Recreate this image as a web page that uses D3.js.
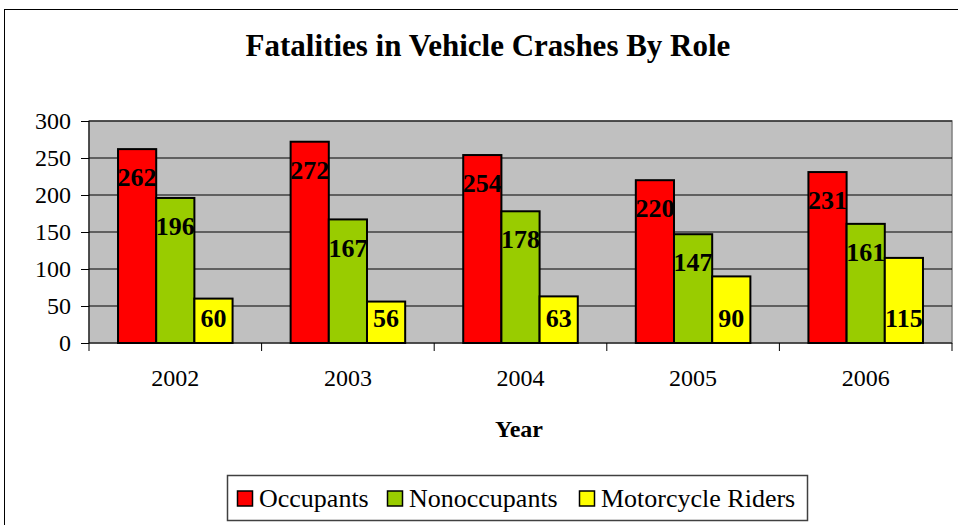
<!DOCTYPE html>
<html lang="en">
<head>
    <meta charset="utf-8">
    <title>Fatalities in Vehicle Crashes By Role</title>
    <script type="text/javascript" src="https://cdn.jsdelivr.net/npm/d3@7"></script>
    <style type="text/css">
        body { margin: 0; background: white; }
    </style>
</head>
<body>
    <script type="text/javascript">

    var w = 958
    var h = 525
    var serif = "'Liberation Serif', 'Times New Roman', serif"

    var years = ["2002", "2003", "2004", "2005", "2006"]
    var seriesNames = ["Occupants", "Nonoccupants", "Motorcycle Riders"]
    var occupants = [262, 272, 254, 220, 231]
    var nonoccupants = [196, 167, 178, 147, 161]
    var riders = [60, 56, 63, 90, 115]
    var yTicks = [0, 50, 100, 150, 200, 250, 300]

    var colors = ["#ff0000", "#99cc00", "#ffff00"]
    var values = [occupants, nonoccupants, riders]

    var plot = {left: 89, top: 121, right: 952, bottom: 343}

    var svg = d3.select("body")
        .append("svg")
        .attr("width", w)
        .attr("height", h)
        .style("font-family", serif);

    // outer chart border
    svg.append("rect")
        .attr("x", 4.5).attr("y", 9.5)
        .attr("width", 980).attr("height", 540)
        .attr("fill", "white")
        .attr("stroke", "black");

    svg.append("text")
        .attr("x", 488).attr("y", 56)
        .attr("text-anchor", "middle")
        .attr("font-size", 31)
        .attr("font-weight", "bold")
        .style("font-family", serif)
        .text("Fatalities in Vehicle Crashes By Role");

    var x = d3.scaleBand()
        .domain(years)
        .range([plot.left, plot.right]);

    var xInner = d3.scaleBand()
        .domain(d3.range(seriesNames.length))
        .range([0, x.bandwidth()])
        .paddingInner(0)
        .paddingOuter(0.76);

    var y = d3.scaleLinear()
        .domain([0, 300])
        .range([plot.bottom, plot.top]);

    // plot area
    svg.append("rect")
        .attr("x", plot.left).attr("y", plot.top)
        .attr("width", plot.right - plot.left)
        .attr("height", plot.bottom - plot.top)
        .attr("fill", "#c0c0c0")
        .attr("stroke", "#808080")
        .attr("stroke-width", 1.5);

    // gridlines
    svg.selectAll("line.grid")
        .data(yTicks.slice(1))
        .enter()
        .append("line")
        .attr("class", "grid")
        .attr("x1", plot.left).attr("x2", plot.right)
        .attr("y1", function(d){ return y(d); })
        .attr("y2", function(d){ return y(d); })
        .attr("stroke", "black")
        .attr("stroke-width", 1);

    // bars
    var groups = svg.selectAll("g.year")
        .data(years)
        .enter()
        .append("g")
        .attr("class", "year")
        .attr("transform", function(d){ return "translate(" + x(d) + ",0)"; });

    groups.selectAll("rect")
        .data(function(d, i){
            return values.map(function(s, j){ return {s: j, v: s[i]}; });
        })
        .enter()
        .append("rect")
        .attr("x", function(d){ return xInner(d.s); })
        .attr("y", function(d){ return y(d.v); })
        .attr("width", xInner.bandwidth())
        .attr("height", function(d){ return y(0) - y(d.v); })
        .attr("fill", function(d){ return colors[d.s]; })
        .attr("stroke", "black")
        .attr("stroke-width", 2);

    // value labels: first two series near the top, riders near the base
    groups.selectAll("text")
        .data(function(d, i){
            return values.map(function(s, j){ return {s: j, v: s[i]}; });
        })
        .enter()
        .append("text")
        .attr("x", function(d){ return xInner(d.s) + xInner.bandwidth() / 2; })
        .attr("y", function(d){
            if (d.s == 2) return y(0) - 25;
            return y(d.v) + 28;
        })
        .attr("dy", "0.35em")
        .attr("text-anchor", "middle")
        .attr("font-size", 26)
        .attr("font-weight", "bold")
        .style("font-family", serif)
        .text(function(d){ return d.v; });

    // y axis
    var yAxis = svg.append("g")
        .attr("transform", "translate(" + plot.left + ",0)")
        .call(d3.axisLeft(y).tickValues(yTicks).tickSize(8).tickPadding(10));
    yAxis.selectAll("text").attr("font-size", 24).attr("fill", "black")
        .style("font-family", serif);
    yAxis.selectAll("line, path").attr("stroke", "black");
    yAxis.select(".domain").attr("d", "M0," + plot.top + "V" + plot.bottom);

    // x axis
    var xAxis = svg.append("g")
        .attr("transform", "translate(0," + plot.bottom + ")")
        .call(d3.axisBottom(x).tickSize(0).tickPadding(26));
    xAxis.selectAll("text").attr("font-size", 24).attr("fill", "black")
        .style("font-family", serif);
    xAxis.select(".domain").attr("stroke", "black")
        .attr("d", "M" + plot.left + ",0H" + plot.right);

    svg.selectAll("line.xtick")
        .data(years.concat(["end"]))
        .enter()
        .append("line")
        .attr("class", "xtick")
        .attr("x1", function(d, i){ return plot.left + i * x.step(); })
        .attr("x2", function(d, i){ return plot.left + i * x.step(); })
        .attr("y1", plot.bottom).attr("y2", plot.bottom + 8)
        .attr("stroke", "black");

    svg.append("text")
        .attr("x", 519).attr("y", 437)
        .attr("text-anchor", "middle")
        .attr("font-size", 24)
        .attr("font-weight", "bold")
        .style("font-family", serif)
        .text("Year");

    // legend
    svg.append("rect")
        .attr("x", 227.5).attr("y", 475.5)
        .attr("width", 580).attr("height", 45)
        .attr("fill", "white")
        .attr("stroke", "#404040")
        .attr("stroke-width", 1.5);

    var legendX = [237, 387, 579];
    var legend = svg.selectAll("g.legend")
        .data(seriesNames)
        .enter()
        .append("g")
        .attr("class", "legend")
        .attr("transform", function(d, i){ return "translate(" + legendX[i] + ",498)"; });

    legend.append("rect")
        .attr("x", 0.5).attr("y", -7)
        .attr("width", 15).attr("height", 15)
        .attr("fill", function(d, i){ return colors[i]; })
        .attr("stroke", "black")
        .attr("stroke-width", 1.5);

    legend.append("text")
        .attr("x", 22).attr("y", 0)
        .attr("dy", "0.35em")
        .attr("font-size", 26)
        .style("font-family", serif)
        .text(function(d){ return d; });

    </script>
</body>
</html>
